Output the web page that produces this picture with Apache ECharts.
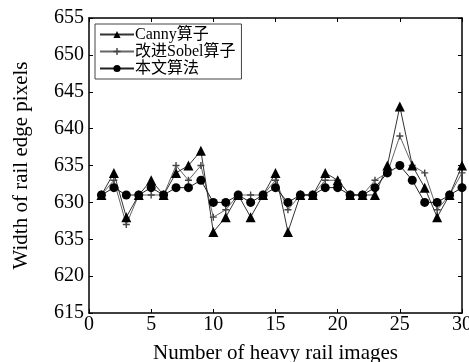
<!DOCTYPE html>
<html>
<head>
<meta charset="utf-8">
<script src="https://cdn.jsdelivr.net/npm/echarts@6/dist/echarts.min.js"></script>
<style>
  html, body { margin: 0; padding: 0; background: #fff; }
  #chart { width: 469px; height: 362px; }
</style>
</head>
<body>
<div id="chart"></div>
<script>
// image index 1..30
const imageIdx = Array.from({ length: 30 }, (_, i) => i + 1)
const canny = [631, 634, 628, 631, 633, 631, 634, 635, 637, 626, 628, 631, 628, 631, 634, 626, 631, 631, 634, 633, 631, 631, 631, 635, 643, 635, 632, 628, 631, 635]
const sobel = [631, 633, 627, 631, 631, 631, 635, 633, 635, 628, 629, 631, 631, 631, 633, 629, 631, 631, 633, 633, 631, 631, 633, 634, 639, 635, 634, 629, 631, 634]
const ours = [631, 632, 631, 631, 632, 631, 632, 632, 633, 630, 630, 631, 630, 631, 632, 630, 631, 631, 632, 632, 631, 631, 632, 634, 635, 633, 630, 630, 631, 632]
// y tick labels as printed (the 625 tick reads "635" in the original)
const yTickLabels = ['615', '620', '635', '630', '635', '640', '645', '650', '655']
const legendNames = ['Canny算子', '改进Sobel算子', '本文算法']

const font = '"Liberation Serif", "Times New Roman", "Noto Sans CJK SC", serif'
const star = 'path://M4,0 L6,0 L6,4 L10,4 L10,6 L6,6 L6,10 L4,10 L4,6 L0,6 L0,4 L4,4 Z'

function pairs(arr) {
  return arr.map((v, i) => [imageIdx[i], v])
}

const chart = echarts.init(document.getElementById('chart'))

const axisCommon = {
  axisLine: { show: true, onZero: false, lineStyle: { color: '#000', width: 1.5 } },
  axisTick: { show: true, inside: true, length: 4, lineStyle: { color: '#000' } },
  splitLine: { show: false }
}

const option = {
  animation: false,
  backgroundColor: '#fff',
  textStyle: { fontFamily: font },
  grid: { left: 89, right: 7, top: 18, bottom: 49, outerBoundsMode: 'none' },
  legend: {
    left: 95,
    top: 24,
    orient: 'vertical',
    itemGap: 0,
    itemWidth: 34,
    itemHeight: 9,
    padding: [2, 6, 2, 4],
    borderColor: '#444',
    borderWidth: 1,
    backgroundColor: '#fff',
    textStyle: { fontFamily: font, fontSize: 16, lineHeight: 17, color: '#000', padding: [0, 0, 0, -4] },
    data: legendNames
  },
  xAxis: [
    Object.assign({
      type: 'value', min: 0, max: 30, interval: 5,
      name: 'Number of heavy rail images',
      nameLocation: 'middle',
      nameGap: 30,
      nameTextStyle: { fontFamily: font, fontSize: 21, color: '#000' },
      axisLabel: { fontFamily: font, fontSize: 20, color: '#000', margin: 2 }
    }, axisCommon),
    Object.assign({
      type: 'value', min: 0, max: 30, interval: 5, position: 'top',
      axisLabel: { show: false }
    }, axisCommon)
  ],
  yAxis: [
    Object.assign({
      type: 'value', min: 615, max: 655, interval: 5,
      name: 'Width of rail edge pixels',
      nameLocation: 'middle',
      nameGap: 57,
      nameTextStyle: { fontFamily: font, fontSize: 21, color: '#000' },
      axisLabel: {
        fontFamily: font, fontSize: 20, color: '#000', margin: 5,
        formatter: v => yTickLabels[Math.round((v - 615) / 5)]
      }
    }, axisCommon),
    Object.assign({
      type: 'value', min: 615, max: 655, interval: 5, position: 'right',
      axisLabel: { show: false }
    }, axisCommon)
  ],
  series: [
    {
      name: legendNames[0],
      type: 'line',
      data: pairs(canny),
      symbol: 'triangle',
      symbolSize: 10,
      lineStyle: { color: '#333', width: 1 },
      itemStyle: { color: '#000' },
      z: 3
    },
    {
      name: legendNames[1],
      type: 'line',
      data: pairs(sobel),
      symbol: star,
      symbolSize: 7,
      lineStyle: { color: '#666', width: 1 },
      itemStyle: { color: '#444' },
      z: 2
    },
    {
      name: legendNames[2],
      type: 'line',
      data: pairs(ours),
      symbol: 'circle',
      symbolSize: 9,
      lineStyle: { color: '#222', width: 1 },
      itemStyle: { color: '#000' },
      z: 4
    }
  ]
}

chart.setOption(option)
</script>
</body>
</html>
